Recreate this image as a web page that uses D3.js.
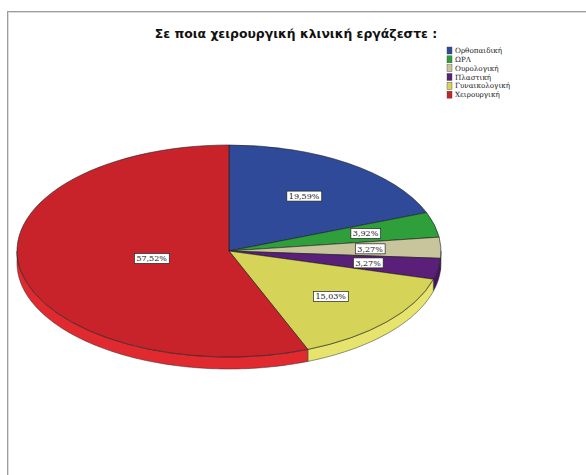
<!DOCTYPE html>
<html>
<head>
<meta charset="utf-8">
<script src="https://cdn.jsdelivr.net/npm/d3@7"></script>
<style>
  html, body { margin: 0; padding: 0; background: #ffffff; }
  svg { display: block; }
</style>
</head>
<body>
<script>
// Survey question: which surgical clinic do you work in?
const titleText = "Σε ποια χειρουργική κλινική εργάζεστε :";
const categories = ["Ορθοπαιδική", "ΩΡΛ", "Ουρολογική", "Πλαστική", "Γυναικολογική", "Χειρουργική"];
const percents = [19.59, 3.92, 3.27, 3.27, 15.03, 57.52];
const topColors = ["#2f4a98", "#2e9f3b", "#c8c49c", "#5a1f78", "#d6d458", "#c8232b"];
const sideColors = ["#253c80", "#26862f", "#b3af86", "#45135f", "#e6e46c", "#e02a2f"];

const W = 586, H = 475;
const cx = 229, cy = 251, rx = 212, ry = 106, depth = 12;

const svg = d3.select("body").append("svg")
  .attr("width", W).attr("height", H);

// window frame
svg.append("line").attr("x1", 7).attr("x2", W).attr("y1", 11.5).attr("y2", 11.5)
  .attr("stroke", "#9c9c9c").attr("stroke-width", 1);
svg.append("line").attr("x1", 7).attr("x2", W).attr("y1", 12.5).attr("y2", 12.5)
  .attr("stroke", "#dcdcdc").attr("stroke-width", 1);
svg.append("line").attr("x1", 7.5).attr("x2", 7.5).attr("y1", 11).attr("y2", H)
  .attr("stroke", "#9c9c9c").attr("stroke-width", 1);
svg.append("line").attr("x1", 8.5).attr("x2", 8.5).attr("y1", 12).attr("y2", H)
  .attr("stroke", "#dcdcdc").attr("stroke-width", 1);

// title
svg.append("text")
  .attr("x", 296).attr("y", 37.5)
  .attr("text-anchor", "middle")
  .attr("font-family", "DejaVu Sans")
  .attr("font-weight", "bold")
  .attr("font-size", 12.4)
  .attr("fill", "#111")
  .text(titleText);

// legend
const legend = svg.append("g").attr("transform", "translate(447,47)");
const legendRow = d3.scaleBand().domain(categories).range([0, 53]);
categories.forEach((c, i) => {
  const y = legendRow(c);
  legend.append("rect").attr("x", 0).attr("y", y).attr("width", 5).attr("height", 7)
    .attr("fill", topColors[i]).attr("stroke", "#444").attr("stroke-width", 0.4);
  legend.append("text").attr("x", 8).attr("y", y + 6)
    .attr("font-family", "DejaVu Serif").attr("font-size", 7.2)
    .attr("fill", "#222")
    .text(c);
});

// pie geometry
const pie = d3.pie().sort(null).value(d => d);
const arcs = pie(percents);
const arcGen = d3.arc().innerRadius(0).outerRadius(rx);

const chart = svg.append("g").attr("transform", `translate(${cx},${cy})`);

// side wall: only the front half of the rim (angles between 90° and 270°)
const rimPoint = (a, dy) => [rx * Math.sin(a), -ry * Math.cos(a) + dy];
const sideLine = d3.line();
arcs.forEach((d, i) => {
  const a0 = Math.max(d.startAngle, Math.PI / 2);
  const a1 = Math.min(d.endAngle, Math.PI * 1.5);
  if (a1 <= a0) return;
  const n = Math.max(4, Math.ceil((a1 - a0) / 0.02));
  const angles = d3.range(n + 1).map(k => a0 + (a1 - a0) * k / n);
  const pts = angles.map(a => rimPoint(a, 0))
    .concat(angles.slice().reverse().map(a => rimPoint(a, depth)));
  chart.append("path")
    .attr("d", sideLine(pts) + "Z")
    .attr("fill", sideColors[i])
    .attr("stroke", "#2a2a2a").attr("stroke-width", 0.5);
});

// top face: circular arcs squashed into an ellipse
const topFace = chart.append("g").attr("transform", `scale(1,${ry / rx})`);
topFace.selectAll("path").data(arcs).join("path")
  .attr("d", arcGen)
  .attr("fill", (d, i) => topColors[i])
  .attr("stroke", "#1e1e1e")
  .attr("stroke-width", 0.6)
  .attr("vector-effect", "non-scaling-stroke");

// value labels at each sector's centroid
const fmt = v => d3.format(".2f")(v).replace(".", ",") + "%";
arcs.forEach((d, i) => {
  const half = (d.endAngle - d.startAngle) / 2;
  const mid = d.startAngle + half;
  const k = 2 * Math.sin(half) / (3 * half);
  const x = k * rx * Math.sin(mid);
  const y = -k * ry * Math.cos(mid);
  const g = chart.append("g").attr("transform", `translate(${x},${y})`);
  const rect = g.append("rect");
  const t = g.append("text")
    .attr("text-anchor", "middle").attr("dy", "0.35em")
    .attr("font-family", "DejaVu Serif").attr("font-size", 8)
    .attr("fill", "#111")
    .text(fmt(d.data));
  const bb = t.node().getBBox();
  rect.attr("x", bb.x - 2).attr("y", -5)
    .attr("width", bb.width + 4).attr("height", 10)
    .attr("fill", "#fff").attr("stroke", "#222").attr("stroke-width", 0.7);
});
</script>
</body>
</html>
